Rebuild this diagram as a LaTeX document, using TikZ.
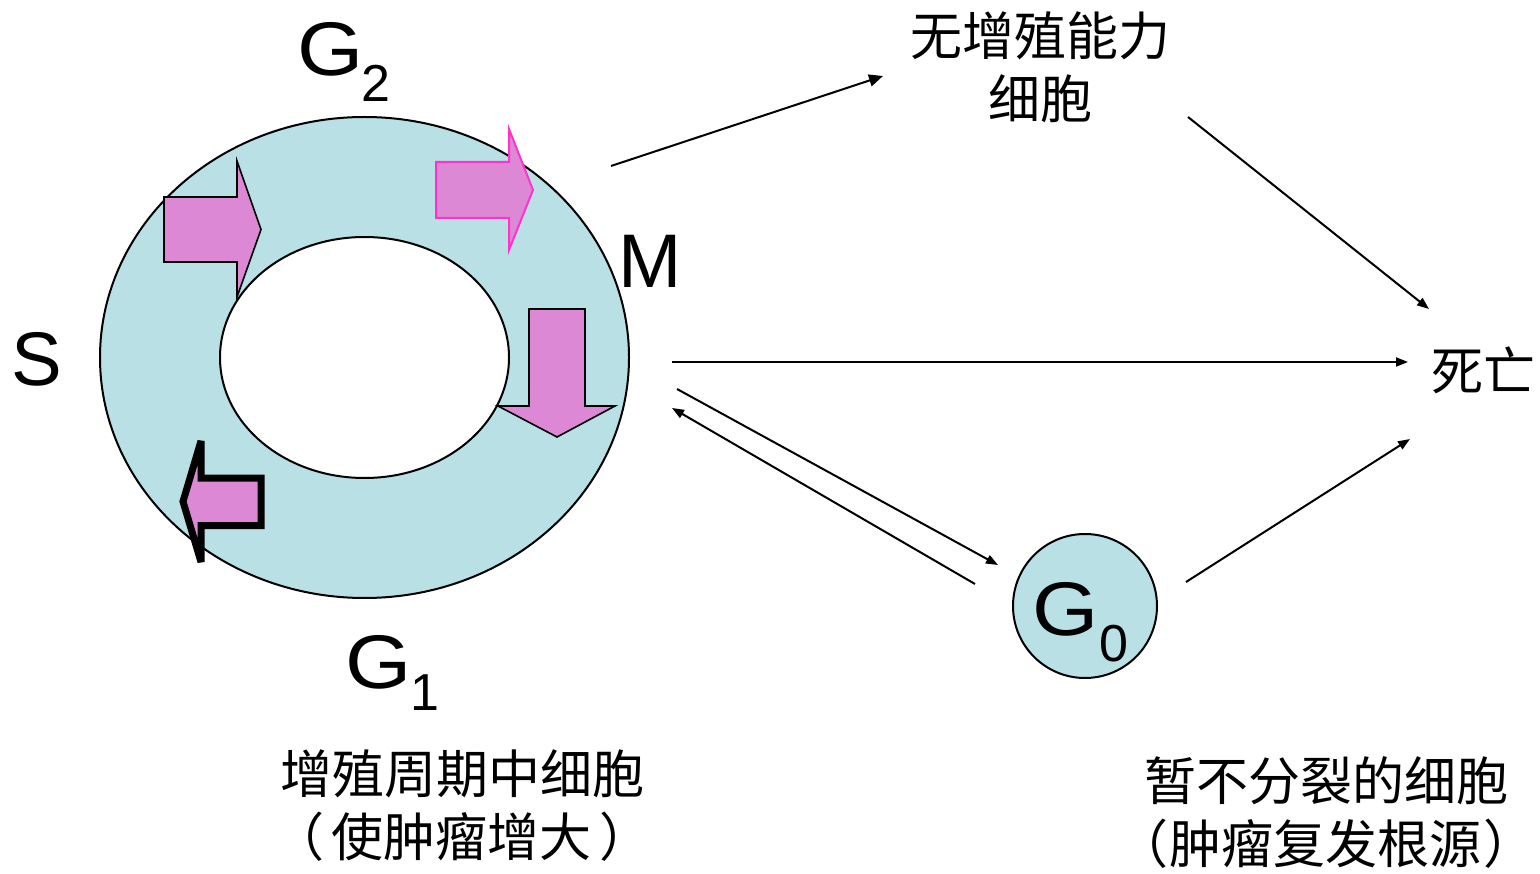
\documentclass[tikz,border=0pt]{standalone}
\usepackage{fontspec}
\setmainfont{Liberation Sans}
\newfontfamily\cjk{Noto Sans CJK SC}
\usetikzlibrary{arrows.meta}
\definecolor{cellblue}{RGB}{185,224,228}
\definecolor{arrowpink}{RGB}{221,136,212}
\definecolor{edgepink}{RGB}{255,51,204}
\begin{document}
\begin{tikzpicture}[x=1pt,y=-1pt,
  conn/.style={line width=2pt,-{Triangle[length=12pt,width=9pt]}},
  blockarrow/.style={fill=arrowpink,draw=black,line width=1.6pt,line join=miter},
  bigletter/.style={font=\fontsize{76}{76}\selectfont,inner sep=0pt,outer sep=0pt},
  subletter/.style={font=\fontsize{52}{52}\selectfont,inner sep=0pt,outer sep=0pt,anchor=base west},
  cjktext/.style={font=\cjk\fontsize{52}{63}\selectfont,align=center,inner sep=0pt}]
\useasboundingbox (0,0) rectangle (1540,874);
\fill[white] (0,0) rectangle (1540,874);
% cell cycle ring
\draw[fill=cellblue,line width=2pt] (364.5,357.5) ellipse [x radius=264.5,y radius=240.5];
\draw[fill=white,line width=2pt] (364.5,357.5) ellipse [x radius=144.5,y radius=120.5];
% block arrows
\draw[blockarrow] (164,197) -- (237,197) -- (237,161) -- (261,229.5) -- (237,297) -- (237,262) -- (164,262) -- cycle;
\draw[blockarrow,draw=edgepink,line width=2pt] (436,162) -- (509,162) -- (509,129) -- (533,190) -- (509,250) -- (509,218) -- (436,218) -- cycle;
\draw[blockarrow] (529,309) -- (585,309) -- (585,406) -- (615,406) -- (557,437) -- (498,406) -- (529,406) -- cycle;
\draw[blockarrow,line width=7pt,miter limit=3] (261,478) -- (201,478) -- (201,441) -- (183,501.5) -- (201,562) -- (201,525.5) -- (261,525.5) -- cycle;
% phase labels
\node[bigletter,anchor=base west,xscale=1.12] (g2) at (297,76) {G};
\node[subletter] (g2s) at (361.5,102) {2};
\node[bigletter,anchor=base] (s) at (37,386) {S};
\node[bigletter,anchor=base] (m) at (650,288) {M};
\node[bigletter,anchor=base west,xscale=1.12] (g1) at (345,688) {G};
\node[subletter] (g1s) at (410.5,710) {1};
% G0 circle
\node[circle,draw,fill=cellblue,line width=2pt,minimum size=144pt,inner sep=0pt] (g0c) at (1085,606) {};
\node[bigletter,anchor=base west,xscale=1.12] (g0) at (1032,635) {G};
\node[subletter] (g0s) at (1099.4,661.7) {0};
% texts
\node[cjktext] (nocell) at (1040,67) {无增殖能力\\细胞};
\node[cjktext] (death) at (1483,370) {死亡};
\node[cjktext] (cyc) at (462,806) {增殖周期中细胞\\（\hspace{8pt}使肿瘤增大\hspace{8pt}）};
\node[cjktext] (rest) at (1326,813) {暂不分裂的细胞\\（\hspace{2pt}肿瘤复发根源\hspace{2pt}）};
% connectors
\coordinate (a1s) at (611,166); \coordinate (a1e) at (883,76);
\coordinate (a2s) at (1188,117); \coordinate (a2e) at (1429,309);
\coordinate (a3s) at (672,362); \coordinate (a3e) at (1408,362);
\coordinate (a4s) at (1186,582); \coordinate (a4e) at (1410,439);
\coordinate (a5s) at (677,389); \coordinate (a5e) at (998,565);
\coordinate (a6s) at (975,584); \coordinate (a6e) at (672,408);
\draw[conn,-{Triangle[length=14pt,width=12pt]}] (a1s) -- (a1e);
\draw[conn] (a2s) -- (a2e);
\draw[conn] (a3s) -- (a3e);
\draw[conn] (a4s) -- (a4e);
\draw[conn] (a5s) -- (a5e);
\draw[conn] (a6s) -- (a6e);
\end{tikzpicture}
\end{document}
